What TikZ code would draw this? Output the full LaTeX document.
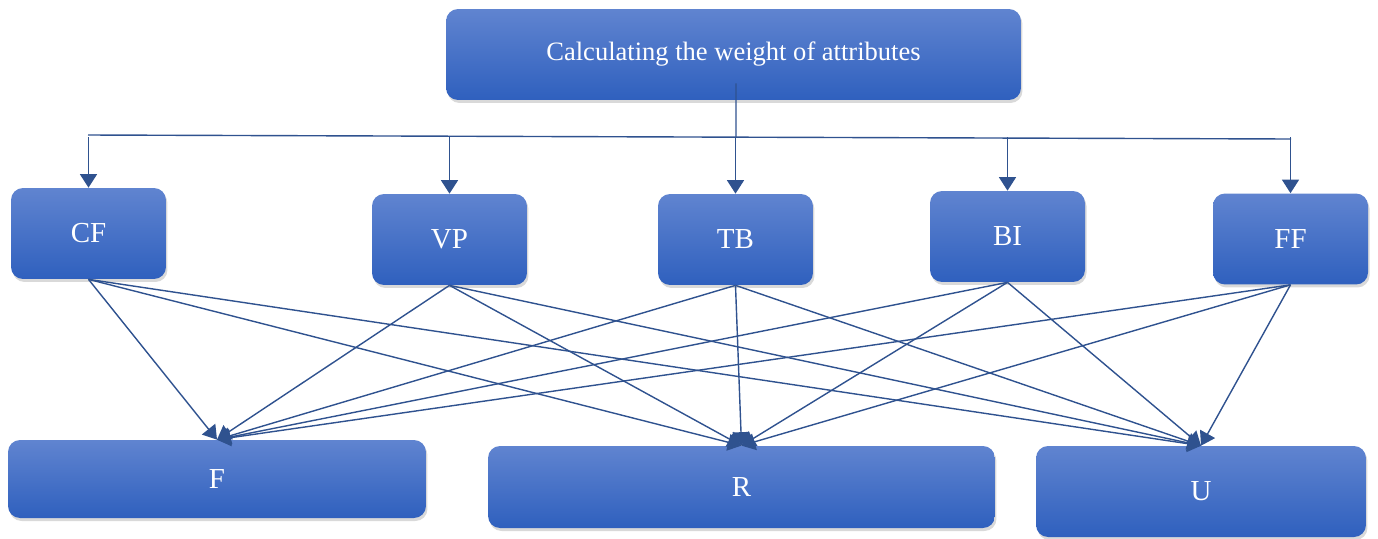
\documentclass[tikz,border=0pt]{standalone}
\usepackage{fontspec}
\setmainfont{Liberation Serif}
\usetikzlibrary{shadows,arrows.meta}
\definecolor{boxtop}{RGB}{96,132,208}
\definecolor{boxbot}{RGB}{47,96,190}
\definecolor{linkblue}{RGB}{47,82,143}
\tikzset{
  attrbox/.style={rounded corners=0.24cm, top color=boxtop, bottom color=boxbot,
    draw=none, text=white, inner sep=0pt, font=\fontsize{16.5}{20}\selectfont,
    drop shadow={shadow xshift=0.03cm, shadow yshift=-0.06cm, opacity=0.3}},
  link/.style={draw=linkblue, line width=0.8pt,
    -{Triangle[length=0.27cm, width=0.34cm, fill=linkblue]}},
  bus/.style={draw=linkblue, line width=0.8pt}
}
\begin{document}
\begin{tikzpicture}[x=0.02cm, y=-0.02cm]
  \useasboundingbox (0,0) rectangle (1378,538);

  % top box
  \node[attrbox, minimum width=11.5cm, minimum height=1.82cm,
    font=\fontsize{15.1}{18}\selectfont] (calc) at (733.5,54.5)
    {\raisebox{-0.12cm}{Calculating the weight of attributes}};

  % attribute boxes
  \node[attrbox, minimum width=3.1cm, minimum height=1.82cm] (CF) at (88.5,233.5) {CF};
  \node[attrbox, minimum width=3.1cm, minimum height=1.82cm] (VP) at (449.5,239.5) {VP};
  \node[attrbox, minimum width=3.1cm, minimum height=1.82cm] (TB) at (735.5,239.5) {TB};
  \node[attrbox, minimum width=3.1cm, minimum height=1.82cm] (BI) at (1007.5,236.5) {BI};
  \node[attrbox, minimum width=3.1cm, minimum height=1.82cm] (FF) at (1290.5,239) {FF};

  % result boxes
  \node[attrbox, minimum width=8.36cm, minimum height=1.56cm] (F) at (217,479) {F};
  \node[attrbox, minimum width=10.14cm, minimum height=1.64cm] (R) at (741.5,487) {R};
  \node[attrbox, minimum width=6.6cm, minimum height=1.82cm] (U) at (1201,491.5) {U};

  % splitting bus
  \coordinate (split) at (736,137);
  \coordinate (busL) at (88,135);
  \coordinate (busR) at (1291,139);
  \draw[bus] ([xshift=0.05cm, yshift=0.34cm]calc.south) -- (split);
  \draw[bus] (busL) -- (busR);
  \foreach \n in {CF,VP,TB,BI,FF}
    \draw[link] (\n.north |- split) -- (\n.north);

  % every attribute to every result
  \foreach \s in {CF,VP,TB,BI,FF}
    \foreach \t in {F,R,U}
      \draw[link] (\s.south) -- (\t.north);
\end{tikzpicture}
\end{document}
